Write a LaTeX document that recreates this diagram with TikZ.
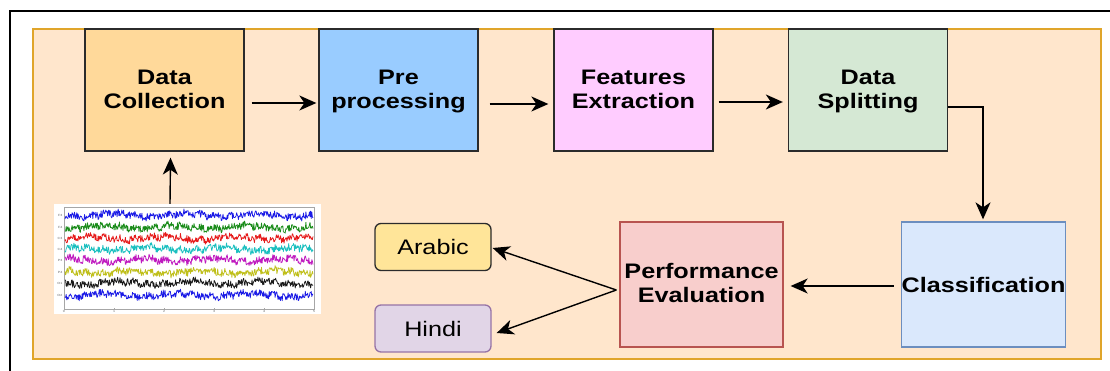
\documentclass[tikz,border=0pt]{standalone}
\usepackage{fontspec}
\setmainfont[FakeStretch=1.2]{Liberation Sans}
\usetikzlibrary{arrows.meta}

\definecolor{panelfill}{HTML}{FFE6CC}
\definecolor{panelline}{HTML}{E0A52A}
\definecolor{dcfill}{HTML}{FFD99A}
\definecolor{prefill}{HTML}{99CCFF}
\definecolor{fefill}{HTML}{FFCCFF}
\definecolor{dsfill}{HTML}{D5E8D4}
\definecolor{clsfill}{HTML}{DAE8FC}
\definecolor{clsline}{HTML}{6C8EBF}
\definecolor{pefill}{HTML}{F8CECC}
\definecolor{peline}{HTML}{B85450}
\definecolor{arfill}{HTML}{FFE599}
\definecolor{hifill}{HTML}{E1D5E7}
\definecolor{hiline}{HTML}{9673A6}
\definecolor{boxline}{HTML}{2B2B2B}
\definecolor{eegblue}{HTML}{1A1AE6}
\definecolor{eeggreen}{HTML}{1A8C1A}
\definecolor{eegred}{HTML}{E61A1A}
\definecolor{eegcyan}{HTML}{1ABFBF}
\definecolor{eegmag}{HTML}{BF1ABF}
\definecolor{eegyel}{HTML}{BFBF1A}
\definecolor{eegblack}{HTML}{1A1A1A}

% two-line labels: fixed struts keep every baseline at the same place
\newcommand{\twolines}[3][19pt]{\rule{0pt}{#1}#2\\#3\rule[-5pt]{0pt}{5pt}}

\tikzset{
  stage/.style={draw=boxline, line width=1.3pt, minimum width=159pt, minimum height=122pt,
    align=center, inner sep=0pt, font=\fontsize{21}{24}\selectfont\bfseries},
  bigstage/.style={stage, minimum width=163pt, minimum height=125pt},
  lang/.style={line width=1.3pt, rounded corners=6pt, minimum width=116pt, minimum height=47pt,
    inner sep=0pt, font=\fontsize{21}{24}\selectfont},
  flow/.style={-{Stealth[length=17pt,width=15pt,inset=5pt]}, line width=1.4pt, black},
  trace/.style={line width=0.75pt, line join=round},
  tiny/.style={font=\fontsize{3}{3}\selectfont, text=black!60, inner sep=0pt}
}

\begin{document}
\begin{tikzpicture}[x=1pt, y=-1pt]
  \clip (0,0) rectangle (1110,371);
  \fill[white] (0,0) rectangle (1110,371);

  % outer frame and panel
  \draw[line width=1.5pt, black] (10,11) rectangle (1130,390);
  \draw[fill=panelfill, draw=panelline, line width=1.6pt] (33,29) rectangle (1101,359);

  % top row of stages
  \node[stage, fill=dcfill]  (dc)  at (164.5,90)  {\twolines{Data}{Collection}};
  \node[stage, fill=prefill] (pre) at (398.5,90)  {\twolines{Pre}{processing}};
  \node[stage, fill=fefill]  (fe)  at (633.5,90)  {\twolines{Features}{Extraction}};
  \node[stage, fill=dsfill]  (ds)  at (868,90)    {\twolines{Data}{Splitting}};

  % bottom row
  \node[bigstage, fill=clsfill, draw=clsline] (cls) at (983.5,284.5) {Classification};
  \node[bigstage, fill=pefill, draw=peline]   (pe)  at (701.5,284.5) {\twolines[17pt]{Performance}{Evaluation}};
  \node[lang, fill=arfill, draw=boxline] (ar) at (433,247)   {Arabic};
  \node[lang, fill=hifill, draw=hiline]  (hi) at (433,328.5) {Hindi};

  % EEG recording panel
  \node[fill=white, minimum width=267pt, minimum height=110pt, inner sep=0pt] (eeg) at (187.5,259) {};
  \draw[black!35, line width=0.4pt] (64,207) rectangle (314,309);
  \pgfmathsetseed{4242}
  \foreach \col/\cy/\lab [count=\i] in {eegblue/215/F3, eeggreen/227/F4, eegred/238/C3, eegcyan/249/C4,
      eegmag/260/P3, eegyel/272/P4, eegblack/283/O1, eegblue/295/O2} {
    \draw[trace, \col] plot[domain=65:313, samples=420]
      (\x, {\cy + 3.8*rand + 1.6*sin(5*\x + 57*\i) + 1.1*sin(23*\x + 13*\i)});
    \node[tiny, anchor=east] at (62.5,\cy) {\lab};
  }
  \foreach \k in {0,...,5} {
    \draw[black!35, line width=0.3pt] (64+50*\k,309) -- (64+50*\k,307.5);
    \node[tiny] at (64+50*\k,311.5) {\k};
  }

  % connectors
  \draw[flow] ([xshift=-17.5pt]eeg.north) -- ([xshift=6pt,yshift=-6pt]dc.south);
  \draw[flow] ([xshift=7pt,yshift=-13pt]dc.east)  -- ([xshift=-2pt,yshift=-13pt]pre.west);
  \draw[flow] ([xshift=11pt,yshift=-14pt]pre.east) -- ([xshift=-5pt,yshift=-14pt]fe.west);
  \draw[flow] ([xshift=5pt,yshift=-12pt]fe.east)  -- ([xshift=-5pt,yshift=-12pt]ds.west);
  \draw[flow] ([yshift=-17pt]ds.east) -| ([xshift=-0.5pt,yshift=2pt]cls.north);
  \draw[flow] ([xshift=-7pt,yshift=-1.5pt]cls.west) -- ([xshift=7pt,yshift=-1.5pt]pe.east);
  \coordinate (fork) at ([xshift=-3pt,yshift=-5.5pt]pe.west);
  \draw[flow] (fork) -- ([xshift=1pt,yshift=-1pt]ar.east);
  \draw[flow] (fork) -- ([xshift=5pt,yshift=-4.5pt]hi.east);
\end{tikzpicture}
\end{document}
